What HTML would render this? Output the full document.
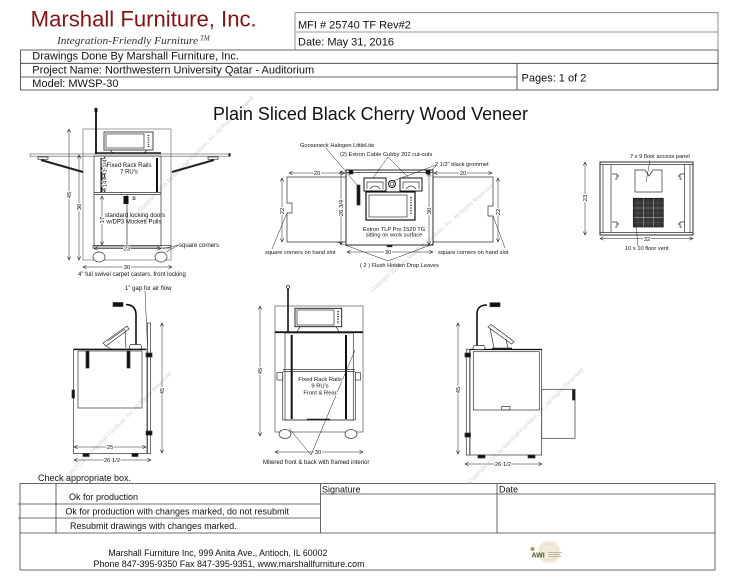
<!DOCTYPE html>
<html><head><meta charset="utf-8"><style>
html,body{margin:0;padding:0;background:#fff;}
svg{display:block;}
text{font-family:"Liberation Sans",Arial,sans-serif;fill:#111;}
.s{font-size:6px;}
.s2{font-size:5.7px;}
.d{font-size:5.8px;paint-order:stroke;stroke:#fff;stroke-width:2px;}
.h{font-size:11px;}
.f{font-size:9px;}
.wm{font-size:5.8px;fill:#d2d2d2;}
</style></head><body>
<svg width="734" height="579" viewBox="0 0 734 579" xmlns="http://www.w3.org/2000/svg">
<defs>
<marker id="ar" viewBox="0 0 6 6" refX="5.6" refY="3" markerWidth="4" markerHeight="4" orient="auto-start-reverse" markerUnits="userSpaceOnUse"><path d="M0,0.3 L5.6,3 L0,5.7" fill="none" stroke="#111" stroke-width="0.8"/></marker>
</defs>
<rect width="734" height="579" fill="#fff"/>

<!-- watermarks -->
<text class="wm" transform="translate(140,212) rotate(-45)">Copyright 2016 By Marshall Furniture, Inc. All Rights Reserved</text>
<text class="wm" transform="translate(372,292) rotate(-41)">Copyright 2016 By Marshall Furniture, Inc. All Rights Reserved</text>
<text class="wm" transform="translate(58,488) rotate(-45)">Copyright 2016 By Marshall Furniture, Inc. All Rights Reserved</text>
<text class="wm" transform="translate(470,484) rotate(-45)">Copyright 2016 By Marshall Furniture, Inc. All Rights Reserved</text>

<!-- HEADER -->
<text x="30.7" y="26.7" font-size="22" style="fill:#8b1111" textLength="226" lengthAdjust="spacingAndGlyphs">Marshall Furniture, Inc.</text>
<text x="57" y="44" font-size="11" style="font-family:'Liberation Serif',serif;font-style:italic;fill:#333" textLength="141" lengthAdjust="spacingAndGlyphs">Integration-Friendly Furniture</text>
<text x="200" y="40.5" font-size="7" style="font-family:'Liberation Serif',serif;font-style:italic;fill:#333">TM</text>

<g stroke="#777" stroke-width="0.8" fill="none">
<path d="M295,12.7 H718 V50 M295,12.7 V50 M295,32 H718"/>
</g>
<g stroke="#333" stroke-width="0.8" fill="none">
<path d="M20.5,50 H718 V90 H20.5 Z M20.5,63.3 H718 M20.5,77 H517 M517,63.3 V90"/>
</g>
<text class="h" x="298" y="28.3">MFI # 25740 TF Rev#2</text>
<text class="h" x="298" y="45.5">Date: May 31, 2016</text>
<text class="h" x="32.3" y="59.5">Drawings Done By Marshall Furniture, Inc.</text>
<text class="h" x="32.3" y="73.5">Project Name: Northwestern University Qatar - Auditorium</text>
<text class="h" x="32.3" y="87">Model:  MWSP-30</text>
<text class="h" x="521.5" y="81.5">Pages: 1 of 2</text>

<text x="213" y="120" font-size="18" textLength="315" lengthAdjust="spacingAndGlyphs">Plain Sliced Black Cherry Wood Veneer</text>

<!-- ============ DRAWING 1 (top-left front) ============ -->
<g fill="none" stroke="#333" stroke-width="0.7">
<rect x="83" y="129" width="88" height="131" stroke="#777"/>
<rect x="104" y="132" width="49" height="18" stroke-width="0.9"/>
<rect x="106" y="134" width="38" height="14"/>
<path d="M148.5,135 V147" stroke-width="1.6" stroke-dasharray="1 1.2"/>
<path d="M110,150 L113,153 M147,150 L144,153"/>
<rect x="95" y="152.3" width="66" height="1.5" fill="#111" stroke="none"/>
<rect x="30" y="154" width="200" height="2.2" stroke="#555" stroke-width="0.6"/>
<rect x="228.5" y="153.3" width="2" height="3.2" fill="#111" stroke="none"/>
<path d="M41,160 L83,172 M172,172 L214,160" stroke="#222" stroke-width="2"/>
<rect x="38" y="157" width="10" height="2.3" fill="#fff"/>
<rect x="208" y="157" width="10" height="2.3" fill="#fff"/>
<path d="M96,111 V154" stroke="#111" stroke-width="1.8"/>
<rect x="94.8" y="108" width="2.4" height="4.5" rx="1" fill="#111"/>
<rect x="94" y="156" width="67" height="90"/>
<path d="M94,192.5 H161 M94,194.5 H161"/>
<path d="M101.5,158 V192 M157,158 V192" stroke="#111" stroke-width="2"/>
<path d="M127,195 V245"/>
<rect x="123.5" y="196" width="5" height="8" fill="#111" stroke="none"/>
<rect x="133" y="197" width="2" height="2.5"/>
<rect x="93" y="245.5" width="78" height="2.5"/>
<ellipse cx="99" cy="257" rx="6" ry="5" fill="#fff"/>
<ellipse cx="161" cy="257" rx="6" ry="5" fill="#fff"/>
</g>
<g stroke="#222" stroke-width="0.5" marker-start="url(#ar)" marker-end="url(#ar)">
<line x1="69" y1="129" x2="69" y2="260"/>
<line x1="79" y1="155" x2="79" y2="260"/>
<line x1="104.5" y1="157" x2="104.5" y2="176"/>
<line x1="104.5" y1="176" x2="104.5" y2="192"/>
<line x1="102" y1="196" x2="102" y2="245"/>
<line x1="94" y1="248.5" x2="161" y2="248.5"/>
<line x1="83" y1="267" x2="172" y2="267"/>
</g>
<text class="d" text-anchor="middle" transform="translate(71,195) rotate(-90)">45</text>
<text class="d" text-anchor="middle" transform="translate(81,207) rotate(-90)">36</text>
<text class="d" text-anchor="middle" transform="translate(106.5,166) rotate(-90)">1 1/4</text>
<text class="d" text-anchor="middle" transform="translate(106.5,184) rotate(-90)">14</text>
<text class="d" text-anchor="middle" transform="translate(104,220) rotate(-90)">17</text>
<text class="d" text-anchor="middle" x="127" y="250.5">23</text>
<text class="d" text-anchor="middle" x="127" y="269">30</text>
<text class="s" text-anchor="middle" x="129" y="167">Fixed Rack Rails</text>
<text class="s" text-anchor="middle" x="129" y="173.5">7 RU's</text>
<text class="s" text-anchor="middle" x="135" y="217">standard locking doors</text>
<text class="s" text-anchor="middle" x="134" y="223.5">w/DP3 Mockett Pulls</text>
<text class="s" x="179" y="247">square corners</text>
<path d="M179,245 L166,252 M179,245 L163,248.5" stroke="#222" stroke-width="0.5" fill="none"/>
<text class="s" x="78" y="276">4" full swivel carpet casters, front locking</text>

<!-- ============ DRAWING 2 (top view) ============ -->
<g fill="none" stroke="#333" stroke-width="0.7">
<path d="M346,177 H287 V203 H292 V213 H287 V242 H346"/>
<path d="M433,177 H493 V206 H488 V216 H493 V242 H433"/>
<rect x="346" y="170" width="87" height="75" stroke="#111" stroke-width="0.9"/>
<path d="M346,172.5 H433"/>
<rect x="349" y="170" width="4" height="4" fill="#111"/>
<rect x="426" y="170" width="4" height="4" fill="#111"/>
<rect x="357" y="185" width="3" height="20" fill="#111"/>
<rect x="364" y="178" width="22" height="13" stroke="#111" stroke-width="1"/>
<path d="M367,189 V182 H383 V189 M370,189 Q375,183 380,189"/>
<rect x="400" y="178" width="22" height="13" stroke="#111" stroke-width="1"/>
<path d="M403,189 V182 H419 V189 M406,189 Q411,183 416,189"/>
<circle cx="392" cy="184" r="3.5" stroke="#111" stroke-width="1"/>
<circle cx="392" cy="184" r="1.8"/>
<rect x="366" y="192" width="49" height="28" stroke="#111" stroke-width="1.2"/>
<rect x="369" y="195" width="38" height="22"/>
<path d="M411,197 V214" stroke-width="1.5" stroke-dasharray="1.2 1.4"/>
<rect x="387" y="245" width="5" height="1.8" fill="#111"/>
</g>
<path d="M326,148 L357,185 M388,157 L373,178 M388,157 L409,178 M436,165 L393,181 M436,166 L429,172 M272,249 L287,213 M505,248 L493,216 M388,261 L337,242 M388,261 L433,244" stroke="#222" stroke-width="0.5" fill="none"/>
<g stroke="#222" stroke-width="0.5" marker-start="url(#ar)" marker-end="url(#ar)">
<line x1="289" y1="173" x2="345" y2="173"/>
<line x1="434" y1="173" x2="492" y2="173"/>
<line x1="282" y1="178" x2="282" y2="242"/>
<line x1="498" y1="178" x2="498" y2="242"/>
<line x1="341" y1="171" x2="341" y2="245"/>
<line x1="429" y1="173" x2="429" y2="245"/>
<line x1="347" y1="252" x2="433" y2="252"/>
</g>
<text class="d" text-anchor="middle" x="317" y="175">20</text>
<text class="d" text-anchor="middle" x="463" y="175">20</text>
<text class="d" text-anchor="middle" transform="translate(284,211) rotate(-90)">22</text>
<text class="d" text-anchor="middle" transform="translate(500,212) rotate(-90)">22</text>
<text class="d" text-anchor="middle" transform="translate(343,208) rotate(-90)">26 3/4</text>
<text class="d" text-anchor="middle" transform="translate(431,211) rotate(-90)">30</text>
<text class="d" text-anchor="middle" x="388" y="254">30</text>
<text class="s2" x="300" y="147">Gooseneck Halogen LittleLite</text>
<text class="s2" x="340" y="156">(2) Extron Cable Cubby 202 cut-outs</text>
<text class="s2" x="435" y="166">2 1/2" black grommet</text>
<text class="s2" text-anchor="middle" x="394" y="231">Extron TLP Pro 1520 TG</text>
<text class="s2" text-anchor="middle" x="394" y="236.5">sitting on work surface</text>
<text class="s2" x="265" y="254">square corners on hand slot</text>
<text class="s2" x="438" y="254">square corners on hand slot</text>
<text class="s2" x="360" y="267">( 2 ) Flush Hidden Drop Leaves</text>

<!-- ============ DRAWING 3 (floor plan) ============ -->
<g fill="none" stroke="#333" stroke-width="0.7">
<rect x="600" y="162" width="93" height="73" stroke="#111" stroke-width="0.9"/>
<path d="M600,164.5 H693 M600,232.5 H693 M603,164.5 V232.5 M611,164.5 V232.5 M684.5,164.5 V232.5 M690,164.5 V232.5"/>
<path d="M635,170 H645 L649,176 L653,170 H662 V192 H635 Z"/>
<rect x="633.3" y="198.3" width="30" height="28.7" fill="#353535" stroke="#111"/>
<path d="M643.3,198.5 V227 M653.3,198.5 V227 M633.5,208 H663 M633.5,217.7 H663" stroke="#aaa" stroke-width="0.6"/>
<path d="M638,198.5 V227 M648,198.5 V227 M658,198.5 V227 M633.5,203 H663 M633.5,213 H663 M633.5,222.5 H663" stroke="#777" stroke-width="0.3"/>
<path d="M612,174 H617 V179 H615 M612,222 H617 V227 H615 M685,174 H680 V179 H682 M685,222 H680 V227 H682"/>
<path d="M617,176 H619 M617,224 H619 M680,176 H678 M680,224 H678" stroke-width="1"/>
</g>
<path d="M650,160 L646,182 M638,246 L636,224" stroke="#222" stroke-width="0.5" fill="none"/>
<g stroke="#222" stroke-width="0.5" marker-start="url(#ar)" marker-end="url(#ar)">
<line x1="585" y1="162" x2="585" y2="235"/>
<line x1="600" y1="238.5" x2="693" y2="238.5"/>
</g>
<text class="d" text-anchor="middle" transform="translate(587,198) rotate(-90)">23</text>
<text class="d" text-anchor="middle" x="647" y="241">32</text>
<text class="s2" x="630" y="158">7 x 9 floor access panel</text>
<text class="s2" x="625" y="250">10 x 10 floor vent</text>

<!-- ============ DRAWING 4 (bottom-left side) ============ -->
<g fill="none" stroke="#333" stroke-width="0.7">
<rect x="73.5" y="349" width="73.5" height="104.5"/>
<path d="M74,349.5 H146" stroke="#111" stroke-width="1.2"/>
<rect x="78" y="351" width="64" height="57"/>
<rect x="147.5" y="323" width="3" height="130.5"/>
<rect x="146" y="353" width="6" height="4" fill="#111"/>
<rect x="146" y="431" width="6" height="4" fill="#111"/>
<rect x="86" y="351" width="3" height="17" fill="#111"/>
<rect x="127" y="351" width="3" height="17" fill="#111"/>
<rect x="72" y="390" width="2.5" height="8" fill="#111"/>
<path d="M103,343 L127,326 L129,329 L106,346 Z M108,341 L125,329 M125,330 L126,348 M106,346 L111,349"/>
<path d="M136,346 V315 Q136,305 126,304.5" stroke="#111" stroke-width="1.6"/>
<rect x="113" y="302.5" width="10" height="4" fill="#111"/>
<rect x="129.5" y="344.5" width="12" height="4.5" rx="2" fill="#fff"/>
<rect x="83" y="453.5" width="6" height="3" fill="#111"/>
<rect x="132" y="453.5" width="6" height="3" fill="#111"/>
</g>
<path d="M145,291 L147.5,347" stroke="#222" stroke-width="0.5"/>
<g stroke="#222" stroke-width="0.5" marker-start="url(#ar)" marker-end="url(#ar)">
<line x1="162" y1="323" x2="162" y2="453"/>
<line x1="74" y1="447" x2="146" y2="447"/>
<line x1="74" y1="460" x2="151" y2="460"/>
</g>
<text class="d" text-anchor="middle" transform="translate(164,391) rotate(-90)">45</text>
<text class="d" text-anchor="middle" x="110" y="449">25</text>
<text class="d" text-anchor="middle" x="112" y="462">26 1/2</text>
<text class="s" x="125" y="290">1" gap for air flow</text>

<!-- ============ DRAWING 5 (bottom-middle front) ============ -->
<g fill="none" stroke="#333" stroke-width="0.7">
<rect x="275" y="306" width="88" height="126" stroke="#555"/>
<path d="M288,288 V332" stroke="#111" stroke-width="1.6"/>
<circle cx="288" cy="287" r="1.6" fill="#fff" stroke-width="0.8"/>
<rect x="295" y="308.3" width="46.7" height="18.4" stroke="#111" stroke-width="0.9"/>
<rect x="297" y="310" width="37" height="15"/>
<path d="M338,311 V324" stroke-width="1.5" stroke-dasharray="1.2 1.3"/>
<path d="M300,326.7 L297,331.5 M336,326.7 L339,331.5"/>
<rect x="275" y="331.3" width="88" height="1.8" fill="#111" stroke="none"/>
<rect x="285" y="333" width="68.3" height="87"/>
<path d="M291.7,335 V419 M346,335 V419" stroke="#111" stroke-width="2"/>
<path d="M283,369.5 H355 M283,371.5 H355"/>
<rect x="277" y="372.7" width="5.7" height="7.3"/>
<rect x="355.3" y="372.7" width="5.3" height="7.3"/>
<path d="M282.7,372 V420 M355.3,372 V420 M282.7,420 H355.3"/>
<path d="M307,419.3 H330" stroke="#111" stroke-width="1.2"/>
<ellipse cx="285" cy="434" rx="6" ry="4.5" fill="#fff"/>
<ellipse cx="351" cy="434" rx="6" ry="4.5" fill="#fff"/>
</g>
<path d="M311,455 L289,428 M311,455 L355,350" stroke="#222" stroke-width="0.5" fill="none"/>
<g stroke="#222" stroke-width="0.5" marker-start="url(#ar)" marker-end="url(#ar)">
<line x1="260" y1="306" x2="260" y2="436"/>
<line x1="275" y1="452" x2="363" y2="452"/>
</g>
<text class="d" text-anchor="middle" transform="translate(262,371) rotate(-90)">45</text>
<text class="d" text-anchor="middle" x="318" y="454">30</text>
<text class="s d" text-anchor="middle" x="320" y="381">Fixed Rack Rails</text>
<text class="s d" text-anchor="middle" x="320" y="387.5">9 RU's</text>
<text class="s d" text-anchor="middle" x="320" y="394.5">Front &amp; Rear</text>
<text class="s" x="263" y="464">Mitered front &amp; back with framed interior</text>

<!-- ============ DRAWING 6 (bottom-right side) ============ -->
<g fill="none" stroke="#333" stroke-width="0.7">
<rect x="470" y="349.3" width="71.7" height="105.7"/>
<path d="M470,349.5 H542" stroke="#111" stroke-width="1.3"/>
<rect x="466.3" y="349.3" width="3.4" height="105.7"/>
<rect x="465" y="353" width="5.5" height="4" fill="#111"/>
<rect x="465" y="433" width="5.5" height="4" fill="#111"/>
<rect x="473.3" y="351.7" width="66" height="58.3"/>
<rect x="501.7" y="406.5" width="8.3" height="3.5"/>
<rect x="541.7" y="389.3" width="33.3" height="49"/>
<rect x="572.5" y="390" width="2.5" height="10" fill="#111"/>
<path d="M477,346 V314 Q477,305 487,305" stroke="#111" stroke-width="1.6"/>
<rect x="490" y="302.7" width="10" height="4" fill="#111"/>
<rect x="473" y="345.5" width="12" height="4" rx="2" fill="#fff"/>
<path d="M488,327 L491,324.5 L514,341.5 L511.5,344 Z M490,328 L494,348 M506,339 L508,348"/>
<path d="M492,348.3 H512" stroke="#111" stroke-width="1.2"/>
<rect x="478" y="455" width="7" height="3" fill="#111"/>
<rect x="528" y="455" width="7" height="3" fill="#111"/>
</g>
<g stroke="#222" stroke-width="0.5" marker-start="url(#ar)" marker-end="url(#ar)">
<line x1="458" y1="323" x2="458" y2="454"/>
<line x1="465" y1="464" x2="542" y2="464"/>
</g>
<text class="d" text-anchor="middle" transform="translate(460,390) rotate(-90)">45</text>
<text class="d" text-anchor="middle" x="503" y="466">26 1/2</text>

<!-- ============ FOOTER ============ -->
<text class="f" x="38" y="481">Check appropriate box.</text>
<g stroke="#444" stroke-width="0.8" fill="none">
<rect x="20" y="483.5" width="695" height="86.5"/>
<path d="M20,533 H715 M56,483.5 V533 M320.5,483.5 V533 M497,483.5 V533 M320.5,494 H715 M18,504 H320.5 M18,518 H320.5"/>
</g>
<text class="f" x="69" y="500">Ok for production</text>
<text class="f" x="65.4" y="514.5">Ok for production with changes marked, do not resubmit</text>
<text class="f" x="70" y="529">Resubmit drawings with changes marked.</text>
<text class="f" x="322" y="492.5">Signature</text>
<text class="f" x="499" y="492.5">Date</text>
<text class="f" x="108.4" y="556" textLength="219" lengthAdjust="spacingAndGlyphs">Marshall Furniture Inc, 999 Anita Ave., Antioch, IL 60002</text>
<text class="f" x="93.5" y="567" textLength="271" lengthAdjust="spacingAndGlyphs">Phone 847-395-9350  Fax  847-395-9351, www.marshallfurniture.com</text>

<!-- AWI logo -->
<circle cx="549" cy="552" r="11.5" fill="#f1ecdb"/>
<circle cx="549" cy="552" r="8" fill="none" stroke="#e2d9b8" stroke-width="0.8"/>
<circle cx="532.5" cy="549" r="2" fill="#a39c62"/>
<text x="531.5" y="557.5" font-size="7" font-weight="bold" style="fill:#4e5a2a">AWI</text>
<path d="M548,552.5 H562 M548,554.5 H560 M548,556.5 H561" stroke="#8a8a6a" stroke-width="0.5"/>
</svg>
</body></html>
